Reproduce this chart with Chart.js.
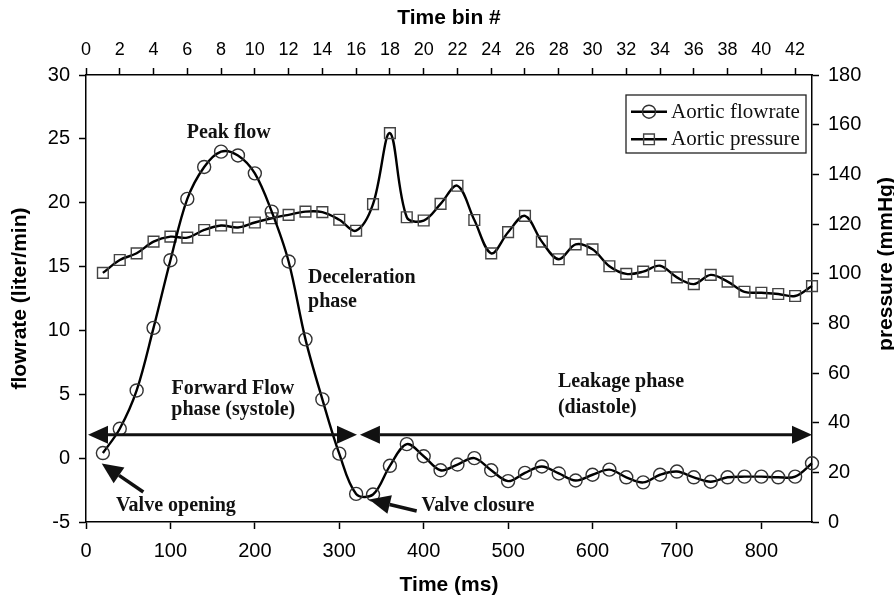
<!DOCTYPE html>
<html>
<head>
<meta charset="utf-8">
<script src="https://cdn.jsdelivr.net/npm/chart.js@4.4.0/dist/chart.umd.min.js"></script>
<style>
html, body { margin: 0; padding: 0; background: #fff; }
#wrap { width: 894px; height: 601px; }
</style>
</head>
<body>
<div id="wrap"><canvas id="myChart" width="894" height="601"></canvas></div>
<script>
// ---------------------------- donnees ----------------------------//
const timeMs = [20, 40, 60, 80, 100, 120, 140, 160, 180, 200,
    220, 240, 260, 280, 300, 320, 340, 360, 380, 400,
    420, 440, 460, 480, 500, 520, 540, 560, 580, 600,
    620, 640, 660, 680, 700, 720, 740, 760, 780, 800,
    820, 840, 860];

// liter/min
const flowrate = [0.4, 2.3, 5.3, 10.2, 15.5, 20.3, 22.8, 24.0, 23.7, 22.3,
    19.3, 15.4, 9.3, 4.6, 0.35, -2.8, -2.85, -0.6, 1.1, 0.15,
    -0.95, -0.5, 0.0, -0.95, -1.8, -1.15, -0.65, -1.2, -1.75, -1.3,
    -0.9, -1.5, -1.9, -1.3, -1.05, -1.5, -1.85, -1.5, -1.45, -1.45,
    -1.5, -1.45, -0.4];

// mmHg
const pressure = [100.3, 105.5, 108.2, 112.9, 114.9, 114.5, 117.6, 119.4, 118.6, 120.6,
    122.3, 123.7, 125.0, 124.8, 121.7, 117.3, 128.0, 156.6, 122.7, 121.4,
    128.1, 135.4, 121.6, 108.2, 116.7, 123.3, 112.9, 105.8, 111.8, 109.8,
    103.0, 99.9, 100.8, 103.2, 98.5, 95.8, 99.5, 96.8, 92.7, 92.3,
    91.8, 91.0, 95.0];

const seriesNames = ['Aortic flowrate', 'Aortic pressure'];

// bornes des axes et pas des graduations
const timeRange = [0, 860];
const binRange = [0, 43];
const flowRange = [-5, 30];
const pressureRange = [0, 180];
const tickSteps = { time: 100, bin: 2, flow: 5, pressure: 20 };
//-------------------------------------------------------------------------------------//

// annotations placees en coordonnees des donnees (ms, liter/min)
const textNotes = [
    { text: 'Peak flow', x: 169, y: 25.05, align: 'center' },
    { text: 'Deceleration', x: 263, y: 13.73, align: 'left' },
    { text: 'phase', x: 263, y: 11.8, align: 'left' },
    { text: 'Forward Flow', x: 174, y: 5.0, align: 'center' },
    { text: 'phase (systole)', x: 174.5, y: 3.36, align: 'center' },
    { text: 'Leakage phase', x: 559, y: 5.58, align: 'left' },
    { text: '(diastole)', x: 559, y: 3.54, align: 'left' },
    { text: 'Valve opening', x: 35.5, y: -4.15, align: 'left' },
    { text: 'Valve closure', x: 397.5, y: -4.15, align: 'left' }
];
const arrowNotes = [
    { x1: 2.4, y1: 1.83, x2: 321, y2: 1.83, both: true },
    { x1: 324.5, y1: 1.83, x2: 860, y2: 1.83, both: true },
    { x1: 67.9, y1: -2.65, x2: 18.6, y2: -0.42, both: false },
    { x1: 391.7, y1: -4.14, x2: 335.5, y2: -3.24, both: false }
];

const sans = "'Liberation Sans', Arial, sans-serif";
const serif = "'Liberation Serif', 'Times New Roman', serif";

function arrowHead(ctx, tx, ty, fx, fy, len, half) {
    const a = Math.atan2(ty - fy, tx - fx);
    const bx = tx - len * Math.cos(a), by = ty - len * Math.sin(a);
    ctx.beginPath();
    ctx.moveTo(tx, ty);
    ctx.lineTo(bx + half * Math.sin(a), by - half * Math.cos(a));
    ctx.lineTo(bx - half * Math.sin(a), by + half * Math.cos(a));
    ctx.closePath();
    ctx.fill();
    return [bx, by];
}

const notesPlugin = {
    id: 'notes',
    afterDraw(chart) {
        const ctx = chart.ctx;
        const xs = chart.scales.x, ys = chart.scales.y;
        ctx.save();
        ctx.fillStyle = '#111';
        ctx.strokeStyle = '#111';
        ctx.font = 'bold 20px ' + serif;
        ctx.textBaseline = 'alphabetic';
        textNotes.forEach(n => {
            ctx.textAlign = n.align;
            ctx.fillText(n.text, xs.getPixelForValue(n.x), ys.getPixelForValue(n.y));
        });

        // fleches
        arrowNotes.forEach(a => {
            const p1 = [xs.getPixelForValue(a.x1), ys.getPixelForValue(a.y1)];
            const p2 = [xs.getPixelForValue(a.x2), ys.getPixelForValue(a.y2)];
            const len = a.both ? 20 : 21, half = a.both ? 9 : 9.5;
            const end = arrowHead(ctx, p2[0], p2[1], p1[0], p1[1], len, half);
            let start = p1;
            if (a.both) start = arrowHead(ctx, p1[0], p1[1], p2[0], p2[1], len, half);
            ctx.lineWidth = a.both ? 3 : 3.5;
            ctx.beginPath();
            ctx.moveTo(start[0], start[1]);
            ctx.lineTo(end[0], end[1]);
            ctx.stroke();
        });

        // legende encadree
        const area = chart.chartArea;
        const bx = area.right - 186, by = area.top + 20, bw = 180, bh = 58;
        ctx.lineWidth = 1.3;
        ctx.strokeStyle = '#222';
        ctx.strokeRect(bx, by, bw, bh);
        chart.data.datasets.forEach((ds, i) => {
            const ly = by + 16.7 + i * 27.6;
            ctx.strokeStyle = '#000';
            ctx.lineWidth = 2.4;
            ctx.beginPath();
            ctx.moveTo(bx + 5, ly);
            ctx.lineTo(bx + 41, ly);
            ctx.stroke();
            ctx.strokeStyle = ds.pointBorderColor;
            ctx.fillStyle = 'rgba(0,0,0,0)';
            ctx.lineWidth = ds.pointBorderWidth;
            Chart.helpers.drawPoint(ctx, {
                pointStyle: ds.pointStyle, radius: ds.pointRadius,
                borderWidth: ds.pointBorderWidth, rotation: 0
            }, bx + 23, ly);
            ctx.fillStyle = '#111';
            ctx.font = '21px ' + serif;
            ctx.textAlign = 'left';
            ctx.fillText(ds.label, bx + 45, ly + 6);
        });

        // titre de l'axe de droite, lu de bas en haut
        ctx.translate(chart.scales.y2.right - 8, area.top + 189);
        ctx.rotate(-Math.PI / 2);
        ctx.font = 'bold 21px ' + sans;
        ctx.textAlign = 'center';
        ctx.textBaseline = 'middle';
        ctx.fillStyle = '#000';
        ctx.fillText('pressure (mmHg)', 0, 0);
        ctx.restore();
    }
};

function axisGrid() {
    return { drawOnChartArea: false, tickLength: 7, tickColor: '#000', tickWidth: 1.5, color: '#000' };
}

const ctx = document.getElementById('myChart').getContext('2d');
const myChart = new Chart(ctx, {
    type: 'line',
    data: {
        datasets: [{
            label: seriesNames[0],
            data: timeMs.map((t, i) => ({ x: t, y: flowrate[i] })),
            xAxisID: 'x',
            yAxisID: 'y',
            borderColor: '#000',
            borderWidth: 2.4,
            tension: 0.35,
            fill: false,
            clip: false,
            pointStyle: 'circle',
            pointRadius: 6.5,
            pointBorderColor: '#333',
            pointBorderWidth: 1.4,
            pointBackgroundColor: 'rgba(0,0,0,0)'
        }, {
            label: seriesNames[1],
            data: timeMs.map((t, i) => ({ x: t, y: pressure[i] })),
            xAxisID: 'x',
            yAxisID: 'y2',
            borderColor: '#000',
            borderWidth: 2.4,
            tension: 0.35,
            fill: false,
            clip: false,
            pointStyle: 'rect',
            pointRadius: 7.6,
            pointBorderColor: '#444',
            pointBorderWidth: 1.4,
            pointBackgroundColor: 'rgba(0,0,0,0)'
        }]
    },
    options: {
        responsive: false,
        animation: false,
        events: [],
        devicePixelRatio: 1,
        layout: { padding: 0 },
        plugins: {
            legend: { display: false },
            tooltip: { enabled: false }
        },
        scales: {
            x: {
                type: 'linear', position: 'bottom',
                min: timeRange[0], max: timeRange[1],
                ticks: { stepSize: tickSteps.time, includeBounds: false, padding: 10.5, color: '#000', font: { family: sans, size: 20 } },
                grid: axisGrid(),
                border: { color: '#000', width: 1.5 },
                title: { display: true, text: 'Time (ms)', color: '#000', font: { family: sans, size: 21, weight: 'bold' }, padding: { top: 0, bottom: 2.7 } },
                afterFit(s) { s.height = 79; }
            },
            xTop: {
                type: 'linear', position: 'top',
                min: binRange[0], max: binRange[1],
                ticks: { stepSize: tickSteps.bin, includeBounds: false, padding: 7.2, color: '#000', font: { family: sans, size: 18 } },
                grid: axisGrid(),
                border: { color: '#000', width: 1.5 },
                title: { display: true, text: 'Time bin #', color: '#000', font: { family: sans, size: 21, weight: 'bold' }, padding: { top: 6, bottom: 0 } },
                afterFit(s) { s.height = 75; }
            },
            y: {
                type: 'linear', position: 'left',
                min: flowRange[0], max: flowRange[1],
                ticks: { stepSize: tickSteps.flow, padding: 9, color: '#000', font: { family: sans, size: 20 } },
                grid: axisGrid(),
                border: { color: '#000', width: 1.5 },
                title: { display: true, text: 'flowrate (liter/min)', color: '#000', font: { family: sans, size: 21, weight: 'bold' }, padding: { top: 7.4, bottom: 0 } },
                afterFit(s) { s.width = 86; }
            },
            y2: {
                type: 'linear', position: 'right',
                min: pressureRange[0], max: pressureRange[1],
                ticks: { stepSize: tickSteps.pressure, padding: 9, color: '#000', font: { family: sans, size: 20 } },
                grid: axisGrid(),
                border: { color: '#000', width: 1.5 },
                afterFit(s) { s.width = 82; }
            }
        }
    },
    plugins: [notesPlugin]
});
</script>
</body>
</html>
